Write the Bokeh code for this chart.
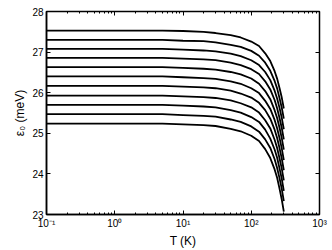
from bokeh.plotting import figure
from bokeh.models import Range1d, LogAxis, LinearAxis, FixedTicker, LogTicker
from bokeh.embed import file_html
from bokeh.resources import INLINE

# Temperature samples (K)
T = [0.1, 1, 5, 10, 20, 30, 50, 70, 100, 130, 160, 190, 220, 240, 260, 280, 300]

# epsilon_0 (meV) for each curve
e1 = [27.53, 27.53, 27.53, 27.52, 27.50, 27.47, 27.42, 27.36, 27.26, 27.15, 26.97, 26.78, 26.53, 26.34, 26.11, 25.88, 25.61]
e2 = [27.30, 27.30, 27.30, 27.28, 27.27, 27.24, 27.18, 27.13, 27.03, 26.91, 26.74, 26.54, 26.29, 26.10, 25.86, 25.63, 25.36]
e3 = [27.08, 27.08, 27.08, 27.06, 27.04, 27.02, 26.96, 26.90, 26.80, 26.68, 26.51, 26.31, 26.05, 25.85, 25.62, 25.38, 25.10]
e4 = [26.86, 26.86, 26.86, 26.84, 26.82, 26.80, 26.74, 26.68, 26.58, 26.46, 26.28, 26.08, 25.82, 25.61, 25.37, 25.13, 24.85]
e5 = [26.63, 26.63, 26.63, 26.61, 26.59, 26.57, 26.51, 26.45, 26.35, 26.22, 26.04, 25.84, 25.57, 25.37, 25.13, 24.88, 24.60]
e6 = [26.40, 26.40, 26.40, 26.38, 26.36, 26.34, 26.28, 26.22, 26.11, 25.99, 25.80, 25.60, 25.33, 25.12, 24.88, 24.63, 24.34]
e7 = [26.17, 26.17, 26.17, 26.15, 26.13, 26.11, 26.05, 25.98, 25.88, 25.75, 25.57, 25.36, 25.09, 24.88, 24.63, 24.38, 24.09]
e8 = [25.93, 25.93, 25.93, 25.91, 25.89, 25.87, 25.81, 25.74, 25.64, 25.51, 25.32, 25.12, 24.84, 24.63, 24.38, 24.13, 23.84]
e9 = [25.70, 25.70, 25.70, 25.68, 25.66, 25.64, 25.57, 25.51, 25.40, 25.28, 25.09, 24.87, 24.60, 24.39, 24.13, 23.88, 23.58]
e10 = [25.47, 25.47, 25.47, 25.45, 25.43, 25.41, 25.34, 25.28, 25.17, 25.04, 24.85, 24.64, 24.36, 24.14, 23.89, 23.63, 23.33]
e11 = [25.24, 25.24, 25.24, 25.22, 25.20, 25.18, 25.11, 25.05, 24.94, 24.81, 24.61, 24.39, 24.11, 23.90, 23.63, 23.37, 23.07]
curves = [e1, e2, e3, e4, e5, e6, e7, e8, e9, e10, e11]

y_ticks = [23, 24, 25, 26, 27, 28]
x_ticks = [0.1, 1, 10, 100, 1000]
x_tick_labels = ["10\u207b\u00b9", "10\u2070", "10\u00b9", "10\u00b2", "10\u00b3"]

FONT = "Liberation Sans"

p = figure(width=332, height=250, x_axis_type="log",
           x_range=Range1d(0.1, 1000), y_range=Range1d(23, 28),
           output_backend="svg", toolbar_location=None,
           min_border_left=46, min_border_right=13,
           min_border_top=11, min_border_bottom=36)

for e in curves:
    p.line(T, e, line_color="black", line_width=1.8)

p.xgrid.visible = False
p.ygrid.visible = False
p.outline_line_color = "black"
p.outline_line_width = 1.5
p.background_fill_color = "white"
p.border_fill_color = "white"

xa = p.xaxis[0]
xa.ticker = LogTicker(desired_num_ticks=5, num_minor_ticks=10)
xa.major_label_overrides = {v: s for v, s in zip(x_ticks, x_tick_labels)}
xa.axis_label = "T (K)"

ya = p.yaxis[0]
ya.ticker = FixedTicker(ticks=y_ticks)
ya.axis_label = "\u03b5\u2080 (meV)"

for ax in (xa, ya):
    ax.axis_line_color = "black"
    ax.axis_line_width = 1.5
    ax.major_tick_in = 4
    ax.major_tick_out = 0
    ax.minor_tick_in = 2
    ax.minor_tick_out = 0
    ax.major_tick_line_color = "black"
    ax.minor_tick_line_color = "black"
    ax.major_label_text_font = FONT
    ax.major_label_text_font_size = "10px"
    ax.major_label_text_color = "black"
    ax.axis_label_text_font = FONT
    ax.axis_label_text_font_size = "12px"
    ax.axis_label_text_font_style = "normal"
    ax.axis_label_text_color = "black"
    ax.major_label_standoff = 3
    ax.axis_label_standoff = 2
ya.minor_tick_line_color = None

top = LogAxis(ticker=LogTicker(desired_num_ticks=5, num_minor_ticks=10))
right = LinearAxis(ticker=FixedTicker(ticks=y_ticks))
for ax in (top, right):
    ax.axis_line_color = "black"
    ax.major_tick_in = 4
    ax.major_tick_out = 0
    ax.minor_tick_in = 2
    ax.minor_tick_out = 0
    ax.major_label_text_font_size = "0px"
    ax.major_label_standoff = 0
    ax.major_label_text_color = None
right.minor_tick_line_color = None
p.add_layout(top, "above")
p.add_layout(right, "right")

open("out.html", "w").write(file_html(p, INLINE))
